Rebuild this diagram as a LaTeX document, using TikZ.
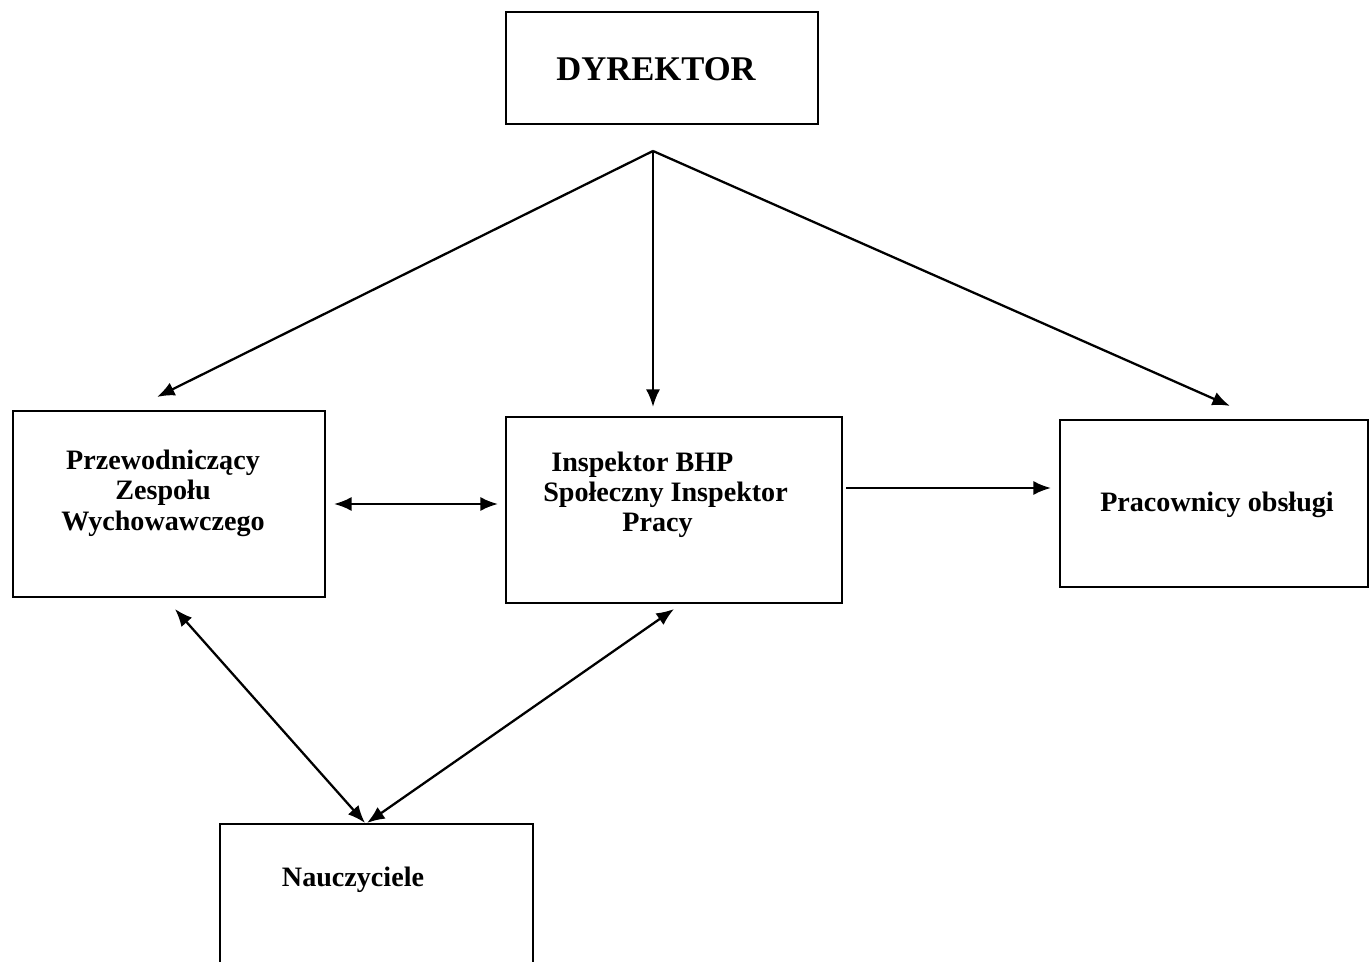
\documentclass[tikz,border=0pt]{standalone}
\usepackage{fontspec}
\setmainfont{Liberation Serif}
\usepackage{tikz}
\usetikzlibrary{arrows.meta}

\begin{document}
\begin{tikzpicture}[x=0.02cm,y=-0.02cm,
    ramka/.style={draw, line width=1.2pt, inner sep=0pt},
    napis/.style={inner sep=0pt, font=\fontsize{16}{17.3}\selectfont\bfseries},
    strz/.style={line width=1.3pt, -{Latex[length=10pt,width=8pt]}},
    dwustrz/.style={line width=1.3pt, {Latex[length=10pt,width=8pt]}-{Latex[length=10pt,width=8pt]}}]
  \useasboundingbox (0,0) rectangle (1370,962);

  % Boxes
  \node[ramka, minimum width=6.24cm, minimum height=2.24cm] (dyr) at (662,68) {};
  \node[ramka, minimum width=6.24cm, minimum height=3.72cm] (przew) at (169,504) {};
  \node[ramka, minimum width=6.72cm, minimum height=3.72cm] (insp) at (674,510) {};
  \node[ramka, minimum width=6.16cm, minimum height=3.34cm] (prac) at (1214,503.5) {};
  \node[ramka, minimum width=6.26cm, minimum height=3.72cm] (naucz) at (376.5,917) {};

  % Texts
  \node[inner sep=0pt, font=\fontsize{19.7}{22}\selectfont\bfseries] (dyrtxt) at (656,69) {DYREKTOR};
  \node[napis, align=center] (przewtxt) at (163,493) {Przewodniczący\\Zespołu\\Wychowawczego};
  \node[napis, anchor=mid west] (insptxta) at (551,467) {Inspektor BHP};
  \node[napis, anchor=mid west] (insptxtb) at (543,497) {Społeczny Inspektor};
  \node[napis, anchor=mid west] (insptxtc) at (622,527) {Pracy};
  \node[napis] (practxt) at (1217,505) {Pracownicy obsługi};
  \node[napis] (nauczytxt) at (353,880) {Nauczyciele};

  % Arrows from the director
  \coordinate (fork) at (653,151);
  \draw[strz] (fork) -- ([xshift=-0.24cm,yshift=0.26cm]przew.north);
  \draw[strz] (fork) -- (fork |- insp.north) [shorten >=0.18cm];
  \draw[strz] (fork) -- ([xshift=0.32cm,yshift=0.26cm]prac.north);

  % Arrows between the boxes
  \draw[dwustrz] ([xshift=0.16cm]przew.east) -- ([xshift=-0.14cm]przew.east -| insp.west);
  \draw[strz] ([xshift=0.06cm,yshift=0.44cm]insp.east) -- ([xshift=-0.16cm,yshift=0.44cm]insp.east -| prac.west);
  \draw[dwustrz] ([xshift=0.12cm,yshift=-0.22cm]przew.south) -- ([xshift=-0.23cm]naucz.north);
  \draw[dwustrz] ([yshift=-0.1cm]insp.south) -- ([xshift=-0.19cm]naucz.north);
\end{tikzpicture}
\end{document}
